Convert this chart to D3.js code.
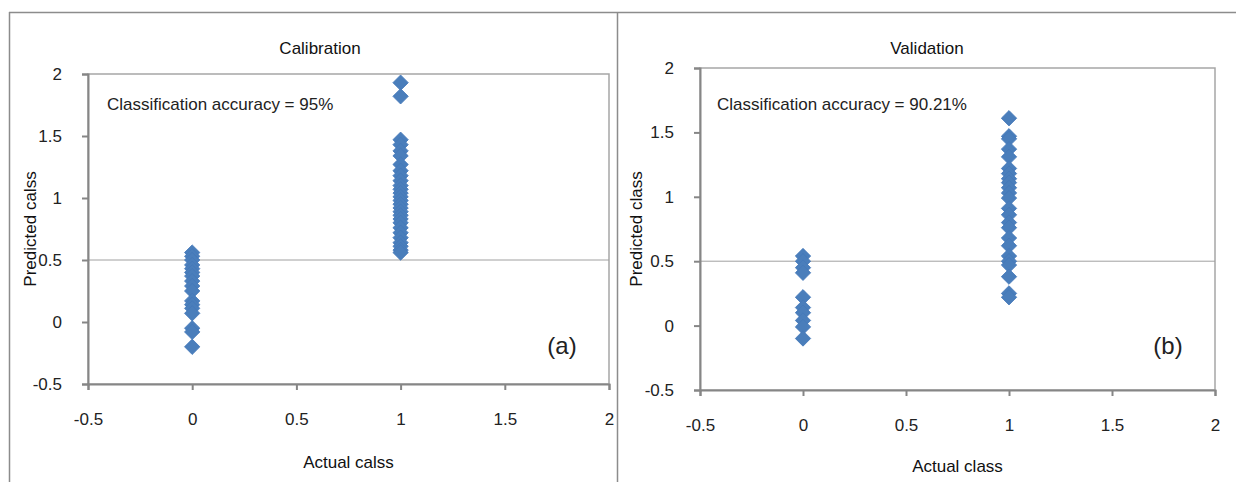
<!DOCTYPE html>
<html>
<head>
<meta charset="utf-8">
<script src="https://cdn.jsdelivr.net/npm/d3@7"></script>
<style>
  body { margin: 0; background: #fff; }
  svg { display: block; font-family: "Liberation Sans", Arial, sans-serif; }
</style>
</head>
<body>
<svg id="chart" width="1236" height="482"></svg>
<script>
// axis ticks shared by both panels
var x_ticks = [-0.5, 0, 0.5, 1, 1.5, 2];
var y_ticks = [-0.5, 0, 0.5, 1, 1.5, 2];
var threshold = 0.5;

// calibration set: predicted values for actual class 0 and 1
var cal_class0 = [0.56, 0.53, 0.50, 0.46, 0.43, 0.40, 0.37, 0.33, 0.29, 0.25,
                  0.17, 0.14, 0.11, 0.07, -0.05, -0.08, -0.20];
var cal_class1 = [1.93, 1.82, 1.47, 1.43, 1.38, 1.34, 1.27, 1.22, 1.18, 1.14,
                  1.10, 1.07, 1.04, 1.01, 0.98, 0.95, 0.92, 0.89, 0.86, 0.83,
                  0.80, 0.76, 0.72, 0.68, 0.64, 0.61, 0.58, 0.56];

// validation set
var val_class0 = [0.54, 0.50, 0.45, 0.41, 0.22, 0.14, 0.10, 0.04, -0.01, -0.10];
var val_class1 = [1.61, 1.47, 1.45, 1.37, 1.31, 1.22, 1.18, 1.14, 1.11, 1.07,
                  1.03, 0.99, 0.91, 0.86, 0.80, 0.76, 0.68, 0.62, 0.54, 0.50,
                  0.47, 0.38, 0.25, 0.22];

var panels = [
    { title: 'Calibration', note: 'Classification accuracy = 95%', tag: '(a)',
      xlabel: 'Actual calss', ylabel: 'Predicted calss',
      c0: cal_class0, c1: cal_class1,
      left: 88, right: 609, top: 74, bottom: 384,
      titleX: 320, labelX: 30, xlabelY: 468, noteX: 107 },
    { title: 'Validation', note: 'Classification accuracy = 90.21%', tag: '(b)',
      xlabel: 'Actual class', ylabel: 'Predicted class',
      c0: val_class0, c1: val_class1,
      left: 700, right: 1215, top: 68, bottom: 390,
      titleX: 927, labelX: 636, xlabelY: 472, noteX: 717 }
];

var svg = d3.select('#chart');
var frame = '#8c8c8c';
var axisColor = '#868686';
var fs = 17;

// outer frames
svg.append('line').attr('x1', 9).attr('x2', 1236).attr('y1', 12.5).attr('y2', 12.5)
    .attr('stroke', frame).attr('stroke-width', 1.5);
svg.append('line').attr('x1', 9.5).attr('x2', 9.5).attr('y1', 12).attr('y2', 482)
    .attr('stroke', frame).attr('stroke-width', 1.5);
svg.append('line').attr('x1', 617.5).attr('x2', 617.5).attr('y1', 12).attr('y2', 482)
    .attr('stroke', frame).attr('stroke-width', 1.5);

var diamond = d3.symbol().type(d3.symbolSquare).size(118);

panels.forEach(p => {
    var x = d3.scaleLinear().domain([-0.5, 2]).range([p.left, p.right]);
    var y = d3.scaleLinear().domain([-0.5, 2]).range([p.bottom, p.top]);
    var g = svg.append('g');

    // plot box
    g.append('rect')
        .attr('x', p.left).attr('y', p.top)
        .attr('width', p.right - p.left).attr('height', p.bottom - p.top)
        .attr('fill', 'none').attr('stroke', '#a6a6a6').attr('stroke-width', 1.5);

    // threshold line
    g.append('line')
        .attr('x1', p.left).attr('x2', p.right)
        .attr('y1', y(threshold)).attr('y2', y(threshold))
        .attr('stroke', '#a0a0a0').attr('stroke-width', 1);

    var xa = g.append('g')
        .attr('transform', `translate(0,${p.bottom})`)
        .call(d3.axisBottom(x).tickValues(x_ticks).tickSize(6).tickPadding(23));
    var ya = g.append('g')
        .attr('transform', `translate(${p.left},0)`)
        .call(d3.axisLeft(y).tickValues(y_ticks).tickSize(6).tickPadding(20));
    [xa, ya].forEach(a => {
        a.select('.domain').attr('stroke', axisColor).attr('stroke-width', 2);
        a.selectAll('.tick line').attr('stroke', axisColor).attr('stroke-width', 2);
        a.selectAll('text').attr('font-size', fs).attr('fill', '#222')
            .attr('font-family', '"Liberation Sans", Arial, sans-serif')
            .text(d => String(d));
    });

    // points
    var pts = p.c0.map(v => [0, v]).concat(p.c1.map(v => [1, v]));
    g.append('g').selectAll('path')
        .data(pts)
        .join('path')
        .attr('d', diamond)
        .attr('transform', d => `translate(${x(d[0])},${y(d[1])}) rotate(45)`)
        .attr('fill', '#4a7ebb')
        .attr('stroke', '#4579b9')
        .attr('stroke-width', 0.8);

    g.append('text').attr('x', p.titleX).attr('y', 54)
        .attr('text-anchor', 'middle').attr('font-size', fs).attr('fill', '#111')
        .text(p.title);
    g.append('text').attr('x', p.noteX).attr('y', 110)
        .attr('font-size', fs).attr('fill', '#222')
        .text(p.note);
    g.append('text').attr('x', p.right - 47).attr('y', 354)
        .attr('text-anchor', 'middle').attr('font-size', 24).attr('fill', '#222')
        .text(p.tag);
    g.append('text').attr('x', (p.left + p.right) / 2).attr('y', p.xlabelY)
        .attr('text-anchor', 'middle').attr('font-size', fs).attr('fill', '#111')
        .text(p.xlabel);
    g.append('text')
        .attr('transform', `translate(${p.labelX + 6},${(p.top + p.bottom) / 2}) rotate(-90)`)
        .attr('text-anchor', 'middle').attr('font-size', fs).attr('fill', '#111')
        .text(p.ylabel);
});
</script>
</body>
</html>
